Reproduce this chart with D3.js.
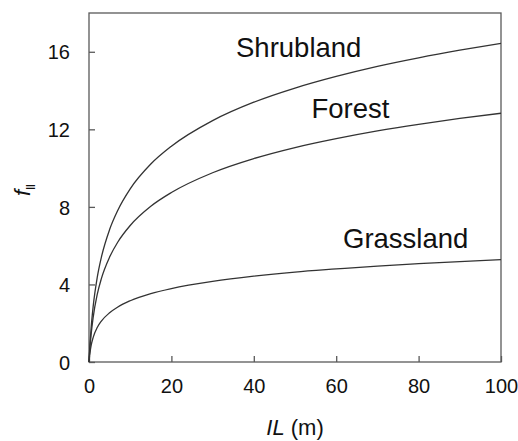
<!DOCTYPE html>
<html>
<head>
<meta charset="utf-8">
<script src="https://cdn.jsdelivr.net/npm/d3@7"></script>
<style>
  body { margin: 0; background: #fff; }
  svg { display: block; font-family: "Liberation Sans", Arial, sans-serif; }
</style>
</head>
<body>
<svg width="518" height="441"></svg>
<script>
// values
var ilValues = [0, 0.1, 0.25, 0.5, 1, 2, 3, 5, 7, 10, 15, 20, 30, 40, 50, 60, 70, 80, 90, 100];
var shrubland = [0, 0.42, 0.96, 1.71, 2.84, 4.36, 5.40, 6.83, 7.83, 8.93, 10.21, 11.13, 12.45, 13.40, 14.13, 14.73, 15.25, 15.69, 16.08, 16.43];
var forest = [0, 0.34, 0.79, 1.39, 2.29, 3.49, 4.30, 5.41, 6.19, 7.04, 8.03, 8.74, 9.76, 10.49, 11.06, 11.52, 11.92, 12.26, 12.56, 12.83];
var grassland = [0, 0.23, 0.50, 0.83, 1.26, 1.78, 2.11, 2.54, 2.84, 3.16, 3.53, 3.79, 4.16, 4.43, 4.64, 4.80, 4.95, 5.07, 5.18, 5.28];
var xTicks = [0, 20, 40, 60, 80, 100];
var yTicks = [0, 4, 8, 12, 16];

var svg = d3.select("svg");
var plotLeft = 89, plotRight = 501, plotTop = 13, plotBottom = 362;

var x = d3.scaleLinear().domain([0, 100]).range([plotLeft, plotRight]);
var y = d3.scaleLinear().domain([0, 18]).range([plotBottom, plotTop]);

var axisColor = "#595959";

// frame
svg.append("rect")
    .attr("x", plotLeft).attr("y", plotTop)
    .attr("width", plotRight - plotLeft).attr("height", plotBottom - plotTop)
    .attr("fill", "none").attr("stroke", axisColor).attr("stroke-width", 1.3);

// x axis, ticks point inward
var gx = svg.append("g").attr("transform", "translate(0," + plotBottom + ")")
    .call(d3.axisTop(x).tickValues(xTicks).tickSize(6).tickSizeOuter(0).tickFormat(d3.format("d")));
gx.select(".domain").remove();
gx.selectAll("line").attr("stroke", axisColor).attr("stroke-width", 1.3);
gx.selectAll("text").attr("y", 31).attr("dy", 0)
    .attr("font-size", "20px").attr("fill", "#111");

// y axis, ticks point inward
var gy = svg.append("g").attr("transform", "translate(" + plotLeft + ",0)")
    .call(d3.axisRight(y).tickValues(yTicks).tickSize(6).tickSizeOuter(0).tickFormat(d3.format("d")));
gy.select(".domain").remove();
gy.selectAll("line").attr("stroke", axisColor).attr("stroke-width", 1.3);
gy.selectAll("text").attr("x", -19).attr("dy", "0.36em")
    .attr("text-anchor", "end").attr("font-size", "20px").attr("fill", "#111");

// curves
var line = d3.line()
    .x(function(d, i) { return x(ilValues[i]); })
    .y(function(d) { return y(d); })
    .curve(d3.curveMonotoneX);

[shrubland, forest, grassland].forEach(function(series) {
    svg.append("path")
        .attr("d", line(series))
        .attr("fill", "none")
        .attr("stroke", "#333")
        .attr("stroke-width", 1.3);
});

// series labels
var labels = [
    { text: "Shrubland", x: 236, y: 56.5 },
    { text: "Forest", x: 311.5, y: 118 },
    { text: "Grassland", x: 343, y: 248 }
];
svg.selectAll(".series-label")
    .data(labels)
    .enter().append("text")
    .attr("class", "series-label")
    .attr("x", function(d) { return d.x; })
    .attr("y", function(d) { return d.y; })
    .attr("font-size", "27.5px")
    .attr("fill", "#111")
    .text(function(d) { return d.text; });

// axis titles
var xt = svg.append("text")
    .attr("x", (plotLeft + plotRight) / 2)
    .attr("y", 435)
    .attr("text-anchor", "middle")
    .attr("font-size", "22px")
    .attr("fill", "#111");
xt.append("tspan").attr("font-style", "italic").text("IL");
xt.append("tspan").text(" (m)");

var yt = svg.append("text")
    .attr("transform", "translate(30,190) rotate(-90)")
    .attr("text-anchor", "middle")
    .attr("font-size", "22px")
    .attr("fill", "#111");
yt.append("tspan").attr("font-style", "italic").text("f");
yt.append("tspan").attr("font-size", "13px").attr("dy", 5).text("ll");
</script>
</body>
</html>
